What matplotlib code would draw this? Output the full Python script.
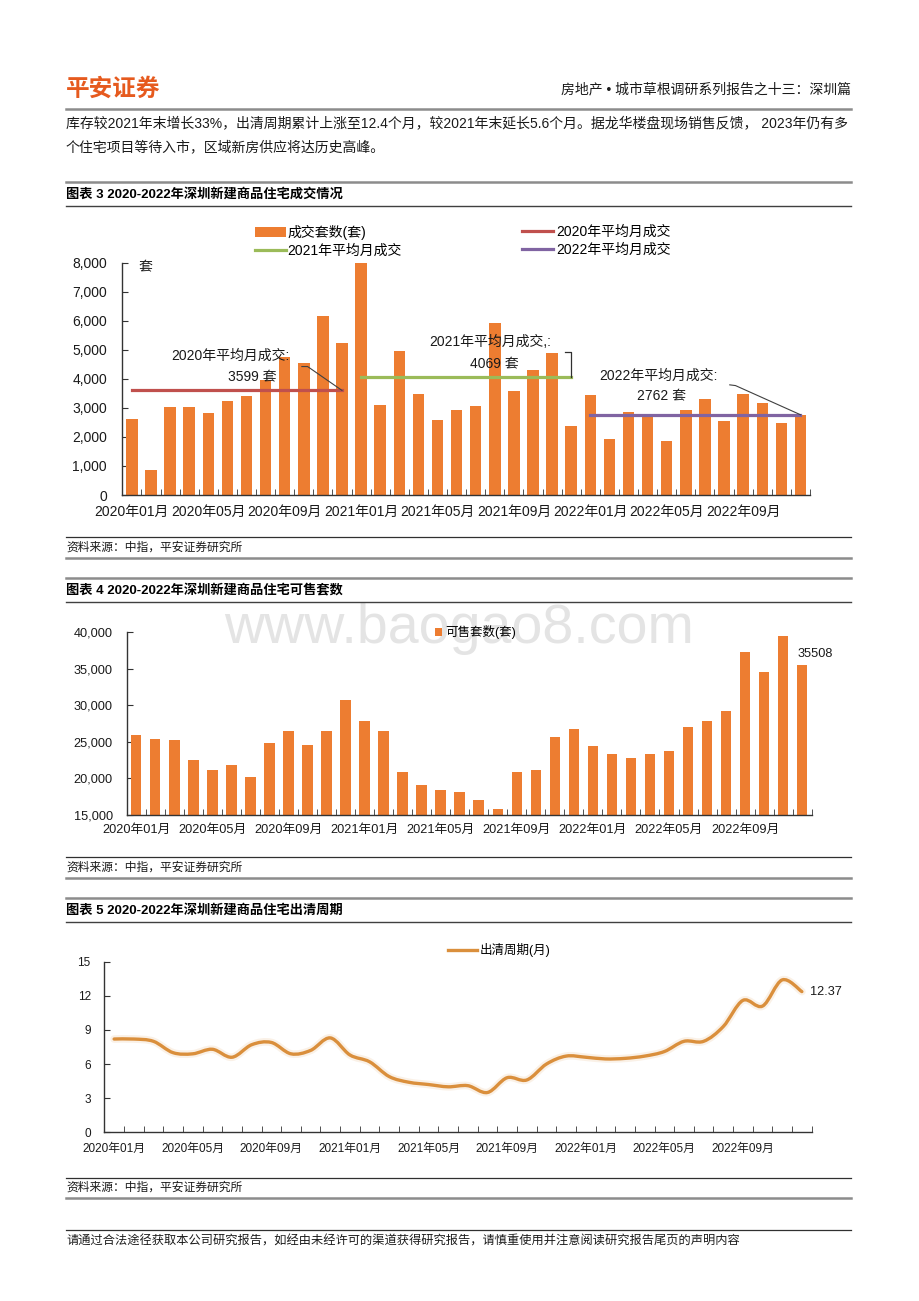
# 深圳新建商品住宅：成交 / 可售 / 出清周期 —— 报告页面重绘

import numpy as np
import matplotlib as mpl
mpl.use('Agg')
import matplotlib.pyplot as plt
from matplotlib.lines import Line2D
from matplotlib.path import Path
from matplotlib.patches import PathPatch
from matplotlib.ticker import FuncFormatter

plt.rcParams['font.family'] = ['Liberation Sans', 'Noto Sans CJK SC']

W, H = 920, 1301

MONTHS = ['%d年%02d月' % (y, m) for y in (2020, 2021, 2022) for m in range(1, 13)]

# 图表3 成交套数(套)
DEALS = [2600, 870, 3030, 3030, 2820, 3250, 3400, 3950, 4750, 4550, 6150, 5230,
         7990, 3110, 4970, 3490, 2570, 2920, 3060, 5930, 3570, 4310, 4900, 2360,
         3450, 1940, 2850, 2780, 1860, 2920, 3310, 2540, 3490, 3180, 2470, 2760]
AVG_YEARS = [2020, 2021, 2022]
AVG_DEALS = [3599, 4069, 2762]

# 图表4 可售套数(套)
STOCK = [25900, 25400, 25300, 22500, 21200, 21900, 20200, 24800, 26500, 24600, 26500, 30800,
         27900, 26500, 20900, 19100, 18400, 18100, 17100, 15800, 20900, 21200, 25700, 26800,
         24400, 23400, 22800, 23400, 23800, 27100, 27800, 29200, 37300, 34600, 39500, 35508]

# 图表5 出清周期(月)
CYCLE = [8.2, 8.2, 8.0, 7.0, 6.9, 7.3, 6.6, 7.7, 7.9, 6.9, 7.2, 8.3,
         6.8, 6.2, 4.9, 4.4, 4.2, 4.0, 4.1, 3.5, 4.8, 4.6, 6.0, 6.7,
         6.6, 6.45, 6.5, 6.7, 7.1, 8.0, 8.0, 9.3, 11.6, 11.1, 13.4, 12.37]

ORANGE = '#ED7D31'
AVG_COLORS = ['#C0504D', '#9BBB59', '#8064A2']
LINE_COLOR = '#DA8F3C'
TXT = '#1a1a1a'


def axpos(l, t, r, b):
    """pixel box -> figure fraction"""
    return [l / W, 1 - b / H, (r - l) / W, (b - t) / H]


def ftext(x, y, s, **kw):
    return fig.text(x / W, 1 - y / H, s, **kw)


def hline(y, x0=66, x1=851, color='#8c8c8c', lw=1.8):
    fig.add_artist(Line2D([x0 / W, x1 / W], [1 - y / H, 1 - y / H],
                          transform=fig.transFigure, color=color, lw=lw))


def style_axis(ax, fs, ypad, xpad):
    for s in ('top', 'right'):
        ax.spines[s].set_visible(False)
    for s in ('left', 'bottom'):
        ax.spines[s].set_color('#333333')
        ax.spines[s].set_linewidth(1.0)
    ax.set_facecolor('none')
    x = np.arange(len(MONTHS))
    ax.set_xlim(-0.5, len(MONTHS) - 0.5)
    ax.set_xticks(x[::4])
    ax.set_xticklabels(MONTHS[::4])
    ax.set_xticks(x + 0.5, minor=True)
    ax.tick_params(axis='x', which='major', length=0, pad=xpad, labelsize=fs, colors=TXT)
    ax.tick_params(axis='x', which='minor', length=4, direction='in', color='#333333')
    ax.tick_params(axis='y', length=4, direction='in', pad=ypad, labelsize=fs,
                   colors=TXT, color='#333333')


def smooth_path(xs, ys):
    """Catmull-Rom style bezier path through the points (like Excel smoothed line)"""
    pts = np.column_stack([xs, ys]).astype(float)
    verts = [pts[0]]
    codes = [Path.MOVETO]
    n = len(pts)
    for i in range(n - 1):
        p0 = pts[max(i - 1, 0)]
        p1 = pts[i]
        p2 = pts[i + 1]
        p3 = pts[min(i + 2, n - 1)]
        verts += [p1 + (p2 - p0) / 6, p2 - (p3 - p1) / 6, p2]
        codes += [Path.CURVE4] * 3
    return Path(verts, codes)


fig = plt.figure(figsize=(W / 100, H / 100), dpi=100)
fig.patch.set_facecolor('white')

# ---- page furniture ----
ftext(66, 89, '平安证券', fontsize=17, fontweight='bold', color='#E65A1E', va='center')
ftext(851, 89, '房地产 • 城市草根调研系列报告之十三：深圳篇', fontsize=10,
      color=TXT, va='center', ha='right')
hline(109)
ftext(66, 123, '库存较2021年末增长33%，出清周期累计上涨至12.4个月，较2021年末延长5.6个月。据龙华楼盘现场销售反馈， 2023年仍有多',
      fontsize=10, color=TXT, va='center')
ftext(66, 147, '个住宅项目等待入市，区域新房供应将达历史高峰。', fontsize=10, color=TXT, va='center')

titles = [(182, 206, '图表 3 2020-2022年深圳新建商品住宅成交情况'),
          (578, 602, '图表 4 2020-2022年深圳新建商品住宅可售套数'),
          (898, 922, '图表 5 2020-2022年深圳新建商品住宅出清周期')]
for top, bot, t in titles:
    hline(top)
    hline(bot, color='#404040', lw=1.0)
    ftext(66, (top + bot) / 2 + 0.5, t, fontsize=9.5, fontweight='bold', color='black', va='center')

for top, bot in [(537, 558), (857, 878), (1178, 1198)]:
    hline(top, color='#303030', lw=0.9)
    hline(bot)
    ftext(66, (top + bot) / 2, '资料来源：中指，平安证券研究所', fontsize=8.5,
          color=TXT, va='center', style='italic')

hline(1230, color='#303030', lw=0.9)
ftext(66, 1242, '请通过合法途径获取本公司研究报告，如经由未经许可的渠道获得研究报告，请慎重使用并注意阅读研究报告尾页的声明内容',
      fontsize=8.8, color=TXT, va='center')

# watermark
ftext(459, 643, 'www.baogao8.com', fontsize=40, color='#e4e4e4', ha='center',
      va='baseline', zorder=-1, family='Liberation Sans')

x = np.arange(len(MONTHS))

# ---- 图表3 ----
ax1 = fig.add_axes(axpos(122.3, 262.5, 810, 495))
style_axis(ax1, 10, 11, 7.5)
bars = ax1.bar(x, DEALS, width=0.6, color=ORANGE, zorder=2, label='成交套数(套)')
avg_handles = []
for k, (yr, val, col) in enumerate(zip(AVG_YEARS, AVG_DEALS, AVG_COLORS)):
    ln, = ax1.plot([12 * k, 12 * k + 11], [val, val], color=col, lw=2.3, zorder=3,
                   label='%d年平均月成交' % yr)
    avg_handles.append(ln)
ax1.set_ylim(0, 8000)
ax1.set_yticks(range(0, 8001, 1000))
ax1.yaxis.set_major_formatter(FuncFormatter(lambda v, p: '{:,.0f}'.format(v)))
ax1.text(0.7, 7820, '套', fontsize=10, color=TXT, ha='center', va='center')

# annotations for yearly averages
ax1.text(5.15, 4790, '2020年平均月成交:', fontsize=10, color=TXT, ha='center', va='center', zorder=4)
ax1.text(6.3, 4060, '%d 套' % AVG_DEALS[0], fontsize=10, color=TXT, ha='center', va='center', zorder=4)
ax1.plot([8.9, 9.2, 11], [4420, 4420, AVG_DEALS[0]], color='#404040', lw=0.8, zorder=4)

ax1.text(18.75, 5280, '2021年平均月成交,:', fontsize=10, color=TXT, ha='center', va='center', zorder=4)
ax1.text(18.95, 4500, '%d 套' % AVG_DEALS[1], fontsize=10, color=TXT, ha='center', va='center', zorder=4)
ax1.plot([22.7, 23.0, 23.0], [4910, 4910, AVG_DEALS[1]], color='#303030', lw=0.9, zorder=4)

ax1.text(27.55, 4110, '2022年平均月成交:', fontsize=10, color=TXT, ha='center', va='center', zorder=4)
ax1.text(27.75, 3385, '%d 套' % AVG_DEALS[2], fontsize=10, color=TXT, ha='center', va='center', zorder=4)
ax1.plot([31.3, 31.6, 35], [3790, 3765, AVG_DEALS[2]], color='#404040', lw=0.8, zorder=4)

leg_a = ax1.legend([bars, avg_handles[1]], [bars.get_label(), avg_handles[1].get_label()],
                   loc='upper left', bbox_to_anchor=(255 / W, 1 - 225 / H),
                   bbox_transform=fig.transFigure, frameon=False, fontsize=10,
                   borderpad=0, borderaxespad=0, handlelength=2.2, handletextpad=0.15,
                   labelspacing=0.25)
ax1.add_artist(leg_a)
ax1.legend([avg_handles[0], avg_handles[2]], [avg_handles[0].get_label(), avg_handles[2].get_label()],
           loc='upper left', bbox_to_anchor=(522 / W, 1 - 225 / H),
           bbox_transform=fig.transFigure, frameon=False, fontsize=10,
           borderpad=0, borderaxespad=0, handlelength=2.2, handletextpad=0.25,
           labelspacing=0.25)

# ---- 图表4 ----
ax2 = fig.add_axes(axpos(126.7, 632.3, 811.7, 815))
style_axis(ax2, 9.2, 10, 6.2)
b2 = ax2.bar(x, STOCK, width=0.55, color=ORANGE, zorder=2, label='可售套数(套)')
ax2.set_ylim(15000, 40000)
ax2.set_yticks(range(15000, 40001, 5000))
ax2.yaxis.set_major_formatter(FuncFormatter(lambda v, p: '{:,.0f}'.format(v)))
ax2.annotate('%d' % STOCK[-1], xy=(x[-1], STOCK[-1]), xytext=(-3.6, 8.2),
             textcoords='offset points', fontsize=9.2, color=TXT, ha='left', va='center')
ax2.legend(loc='upper left', bbox_to_anchor=(435 / W, 1 - 625 / H),
           bbox_transform=fig.transFigure, frameon=False, fontsize=9,
           borderpad=0, borderaxespad=0, handlelength=0.6, handleheight=0.6,
           handletextpad=0.2)

# ---- 图表5 ----
ax3 = fig.add_axes(axpos(104.3, 961.7, 811.7, 1132.3))
style_axis(ax3, 8.5, 9.8, 8)
ax3.set_ylim(0, 15)
ax3.set_yticks(range(0, 16, 3))
path = smooth_path(x, CYCLE)
ax3.add_patch(PathPatch(path, fill=False, edgecolor=LINE_COLOR, lw=5.5, alpha=0.12,
                        capstyle='round', joinstyle='round', zorder=2))
ax3.add_patch(PathPatch(path, fill=False, edgecolor=LINE_COLOR, lw=2.4,
                        capstyle='round', joinstyle='round', zorder=3))
ax3.annotate('%.2f' % CYCLE[-1], xy=(x[-1], CYCLE[-1]), xytext=(6, 0),
             textcoords='offset points', fontsize=9.2, color=TXT, ha='left', va='center')
h3 = Line2D([], [], color=LINE_COLOR, lw=2.4)
ax3.legend([h3], ['出清周期(月)'], loc='upper left', bbox_to_anchor=(448 / W, 1 - 943 / H),
           bbox_transform=fig.transFigure, frameon=False, fontsize=9,
           borderpad=0, borderaxespad=0, handlelength=2.3, handletextpad=0.2)

fig.savefig('out.png', dpi=100, facecolor='white')
